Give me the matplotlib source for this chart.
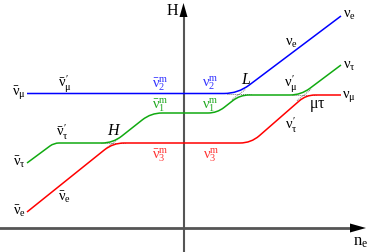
import matplotlib
matplotlib.use("Agg")
import matplotlib.pyplot as plt
from matplotlib.path import Path
from matplotlib.patches import PathPatch
import numpy as np

plt.rcParams['mathtext.fontset'] = 'custom'
plt.rcParams['mathtext.rm'] = 'Liberation Serif'
plt.rcParams['mathtext.it'] = 'Liberation Serif:italic'
plt.rcParams['font.family'] = 'Liberation Serif'

# level curves: corner points (n_e, H) in picture units, y grows downward
blue_pts = [(27, 94.5), (238, 94.5), (341, 17)]
green_pts = [(27, 164), (54, 144), (113, 144), (151, 114), (217, 114),
             (240, 96), (301, 96), (341, 66)]
red_pts = [(27, 213), (113, 144), (251, 144), (306, 96), (341, 96)]
# rounding of each inner corner
blue_round = [14]
green_round = [5, 11, 11, 9, 9, 11]
red_round = [11, 11, 9]

# avoided crossings (centre, slope of the crossing diagonal)
crossings = [(113, 144, -0.8), (239, 95.3, -0.75), (304, 96, -0.8)]

labels_black = [
    (19, 93, r'$\bar{\mathrm{\nu}}_{\mathrm{\mu}}$'),
    (65, 84, r'$\bar{\mathrm{\nu}}_{\mathrm{\mu}}^{\,\prime}$'),
    (62, 132, r'$\bar{\mathrm{\nu}}_{\mathrm{\tau}}^{\,\prime}$'),
    (19, 162, r'$\bar{\mathrm{\nu}}_{\mathrm{\tau}}$'),
    (64, 197, r'$\bar{\mathrm{\nu}}_{\mathrm{e}}$'),
    (19, 211, r'$\bar{\mathrm{\nu}}_{\mathrm{e}}$'),
    (291, 43, r'$\mathrm{\nu}_{\mathrm{e}}$'),
    (349, 15, r'$\mathrm{\nu}_{\mathrm{e}}$'),
    (349, 66, r'$\mathrm{\nu}_{\mathrm{\tau}}$'),
    (349, 96, r'$\mathrm{\nu}_{\mathrm{\mu}}$'),
    (291, 84, r'$\mathrm{\nu}_{\mathrm{\mu}}^{\,\prime}$'),
    (291, 125, r'$\mathrm{\nu}_{\mathrm{\tau}}^{\,\prime}$'),
]
labels_blue = [(160, 84, r'$\bar{\mathrm{\nu}}_{2}^{\mathrm{m}}$'),
               (210, 83, r'$\mathrm{\nu}_{2}^{\mathrm{m}}$')]
labels_green = [(160, 105, r'$\bar{\mathrm{\nu}}_{1}^{\mathrm{m}}$'),
                (210, 105, r'$\mathrm{\nu}_{1}^{\mathrm{m}}$')]
labels_red = [(160, 155, r'$\bar{\mathrm{\nu}}_{3}^{\mathrm{m}}$'),
              (211, 155, r'$\mathrm{\nu}_{3}^{\mathrm{m}}$')]
labels_italic = [(113, 131, 'H'), (246, 80, 'L')]


def rounded_path(pts, radii):
    pts = [np.array(p, float) for p in pts]
    verts = [pts[0]]
    codes = [Path.MOVETO]
    for i in range(1, len(pts) - 1):
        p, c, n = pts[i - 1], pts[i], pts[i + 1]
        r = radii[i - 1]
        a = c + r * (p - c) / np.linalg.norm(p - c)
        b = c + r * (n - c) / np.linalg.norm(n - c)
        verts += [a, c, b]
        codes += [Path.LINETO, Path.CURVE3, Path.CURVE3]
    verts.append(pts[-1])
    codes.append(Path.LINETO)
    return Path(verts, codes)


fig = plt.figure(figsize=(3.68, 2.53), dpi=100)
ax = fig.add_axes([0, 0, 1, 1])
ax.set_xlim(0, 368)
ax.set_ylim(253, 0)
ax.axis('off')

# axes
ax.plot([183.5, 183.5], [253, 16], color='#555555', lw=1.5, zorder=1)
ax.plot([0, 352], [229, 229], color='#555555', lw=2.0, zorder=1)
ax.fill([183.5, 179.5, 187.5], [4, 18, 18], color='black', lw=0)
ax.fill([366, 350, 350], [229, 224.5, 233.5], color='black', lw=0)
ax.text(172, 11, 'H', fontsize=11.5, ha='center', va='center')
ax.text(361, 242, r'$\mathrm{n}_{\mathrm{e}}$', fontsize=12, ha='center', va='center')

# dotted diabatic crossings
for cx, cy, s in crossings:
    ax.plot([cx - 12, cx + 12], [cy, cy], color='#777777', lw=0.7, ls=(0, (1, 1)))
    ax.plot([cx - 7, cx + 7], [cy - 7 * s, cy + 7 * s], color='#777777', lw=0.7, ls=(0, (1, 1)))

for pts, rad, col in [(blue_pts, blue_round, '#0000ff'),
                      (green_pts, green_round, '#11aa11'),
                      (red_pts, red_round, '#ff0000')]:
    ax.add_patch(PathPatch(rounded_path(pts, rad), fill=False, edgecolor=col, lw=1.1, zorder=3))

fs = 10.5
for x, y, s in labels_black:
    ax.text(x, y, s, fontsize=fs, ha='center', va='center')
for x, y, s in labels_blue:
    ax.text(x, y, s, fontsize=fs, ha='center', va='center', color='#3333ff')
for x, y, s in labels_green:
    ax.text(x, y, s, fontsize=fs, ha='center', va='center', color='#22aa22')
for x, y, s in labels_red:
    ax.text(x, y, s, fontsize=fs, ha='center', va='center', color='#ff3333')
for x, y, s in labels_italic:
    ax.text(x, y, s, fontsize=11.5, ha='center', va='center', style='italic')
ax.text(317, 106, r'$\mathrm{\mu\tau}$', fontsize=11.5, ha='center', va='center')

fig.savefig('out.png', dpi=100)
